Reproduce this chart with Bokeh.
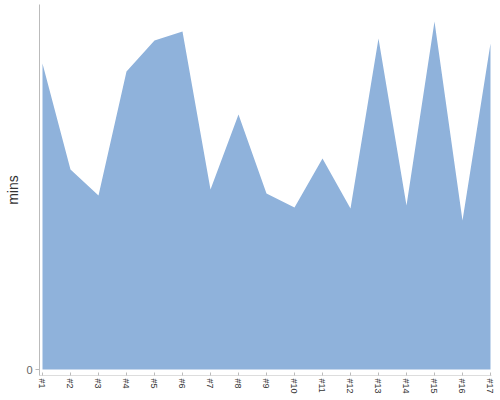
from bokeh.plotting import figure
from bokeh.models import Range1d, FixedTicker
from bokeh.embed import file_html
from bokeh.resources import INLINE

# data
x_vals = list(range(1, 18))
tick_labels = ["#%d" % i for i in x_vals]
mins = [306, 200, 174, 298, 329, 338, 180, 255, 176, 162, 211, 161, 331, 164, 348, 149, 326]

p = figure(width=494, height=398, output_backend="svg", toolbar_location=None,
           x_range=Range1d(0.893, 17.036), y_range=Range1d(-6, 365),
           min_border_left=39, min_border_right=3, min_border_top=4, min_border_bottom=23)

p.varea(x=x_vals, y1=[0] * len(mins), y2=mins, fill_color="#8FB2DB", fill_alpha=1.0)

p.outline_line_color = None
p.xgrid.grid_line_color = None
p.ygrid.grid_line_color = None
p.background_fill_color = "white"
p.border_fill_color = "white"

# y axis
ya = p.yaxis[0]
ya.ticker = FixedTicker(ticks=[0])
ya.axis_label = "mins"
ya.axis_label_text_font = "Liberation Sans"
ya.axis_label_text_font_size = "14px"
ya.axis_label_text_font_style = "normal"
ya.axis_label_text_color = "#333333"
ya.axis_label_standoff = 2
ya.axis_line_color = "#BBBBBB"
ya.major_tick_line_color = "#BBBBBB"
ya.major_tick_out = 4
ya.major_tick_in = 0
ya.minor_tick_line_color = None
ya.major_label_text_font = "Liberation Sans"
ya.major_label_text_font_size = "11px"
ya.major_label_text_color = "#666666"
ya.major_label_standoff = 3

# x axis
xa = p.xaxis[0]
xa.ticker = FixedTicker(ticks=x_vals)
xa.major_label_overrides = {i: lab for i, lab in zip(x_vals, tick_labels)}
xa.major_label_orientation = "vertical"
xa.major_label_text_font = "Liberation Sans"
xa.major_label_text_font_size = "9px"
xa.major_label_text_color = "#333333"
xa.major_label_standoff = 3
xa.axis_line_color = "#DDDDDD"
xa.major_tick_line_color = "#BBBBBB"
xa.major_tick_in = 3
xa.major_tick_out = 0
xa.minor_tick_line_color = None

open("out.html", "w").write(file_html(p, INLINE))
